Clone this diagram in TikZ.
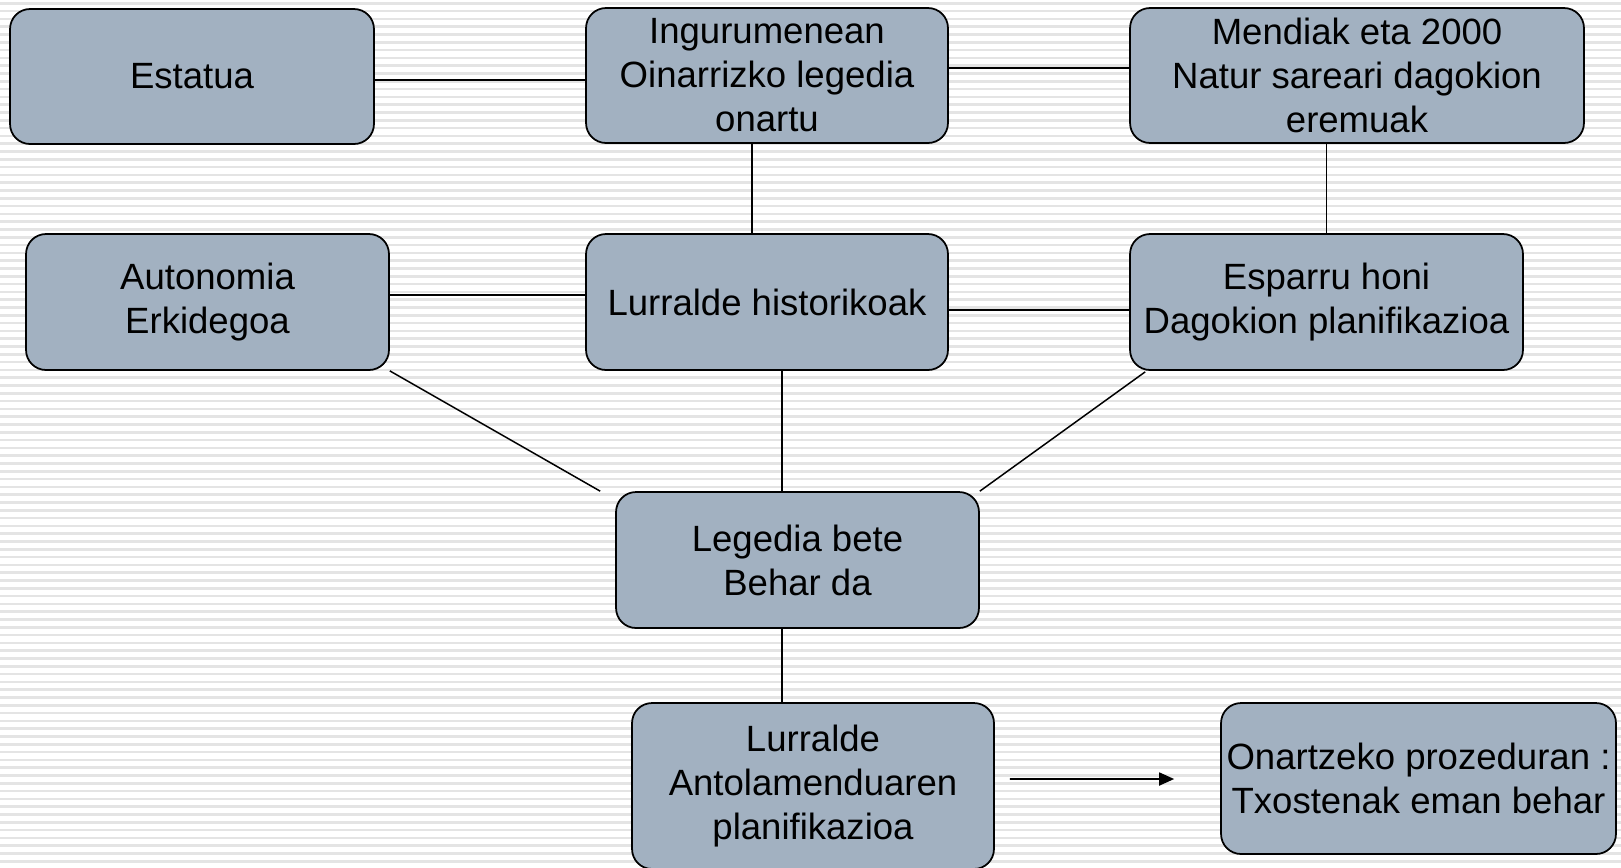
\documentclass[tikz,border=0pt]{standalone}
\usepackage{fontspec}
\setmainfont{Liberation Sans}
\usetikzlibrary{arrows.meta, calc}
\definecolor{riquadro}{RGB}{162,177,193}
\definecolor{righe}{RGB}{228,228,228}

\begin{document}
\begin{tikzpicture}[x = 0.02cm, y = -0.02cm,
    box/.style = {draw, line width = 1pt, fill = riquadro, rounded corners = 0.4cm, inner sep = 0pt, align = center, font = \fontsize{20.8}{25}\selectfont},
    link/.style = {line width = 0.85pt}]
    % Parametri
    \pgfmathsetmacro{\larghezza}{1621}
    \pgfmathsetmacro{\altezza}{867}
    % Sfondo
    \useasboundingbox (0,0) rectangle (\larghezza,\altezza);
    \fill[white] (0,0) rectangle (\larghezza,\altezza);
    \foreach \y in {2,9.8,...,867} \fill[righe] (0,\y) rectangle (\larghezza,\y+2.5);
    % Riquadri
    \node[box, minimum width = 7.28cm, minimum height = 2.7cm] (estatua) at (192,76.5) {Estatua};
    \node[box, minimum width = 7.24cm, minimum height = 2.7cm] (ingurumen) at (767,75.5) {Ingurumenean\\Oinarrizko legedia\\onartu};
    \node[box, minimum width = 9.08cm, minimum height = 2.7cm] (mendiak) at (1357,75.5) {Mendiak eta 2000\\Natur sareari dagokion\\eremuak};
    \node[box, minimum width = 7.26cm, minimum height = 2.72cm] (autonomia) at (207.5,302) {Autonomia\\Erkidegoa};
    \node[box, minimum width = 7.24cm, minimum height = 2.72cm] (lurralde) at (767,302) {Lurralde historikoak};
    \node[box, minimum width = 7.86cm, minimum height = 2.72cm] (esparru) at (1326.5,302) {Esparru honi\\Dagokion planifikazioa};
    \node[box, minimum width = 7.26cm, minimum height = 2.72cm] (legedia) at (797.5,560) {Legedia bete\\Behar da};
    \node[box, minimum width = 7.24cm, minimum height = 3.32cm] (antolamendu) at (813,786) {Lurralde\\Antolamenduaren\\planifikazioa};
    \node[box, minimum width = 7.9cm, minimum height = 3.02cm] (onartzeko) at (1418.5,778.5) {Onartzeko prozeduran :\\Txostenak eman behar};
    % Collegamenti
    \draw[link] ($(estatua.east)+(0,3.5)$) -- ($(ingurumen.west)+(0,4.5)$);
    \draw[link] ($(ingurumen.east)+(0,-7.5)$) -- ($(mendiak.west)+(0,-7.5)$);
    \draw[link] ($(ingurumen.south)+(-15,0)$) -- ($(lurralde.north)+(-15,0)$);
    \draw[link] (esparru.north) -- (esparru.north |- mendiak.south);
    \draw[link] ($(autonomia.east)+(0,-7)$) -- ($(lurralde.west)+(0,-7)$);
    \draw[link] ($(lurralde.east)+(0,8)$) -- ($(esparru.west)+(0,8)$);
    \draw[link] ($(lurralde.south)+(15,0)$) -- ($(legedia.north)+(-15.5,0)$);
    \draw[link] ($(legedia.south)+(-15.5,0)$) -- ($(antolamendu.north)+(-31,0)$);
    \coordinate (sx) at ($(legedia.north west)+(-15,0)$);
    \coordinate (dx) at ($(esparru.south west)+(16,1)$);
    \draw[link] (autonomia.south east) -- (sx);
    \draw[link] (dx) -- (legedia.north east);
    % Freccia
    \coordinate (inizio) at ($(antolamendu.east)+(15,-7)$);
    \coordinate (fine) at ($(onartzeko.west)+(-46,0.5)$);
    \draw[link, line width = 1pt, -{Triangle[length = 0.3cm, width = 0.26cm]}] (inizio) -- (fine);
\end{tikzpicture}
\end{document}
